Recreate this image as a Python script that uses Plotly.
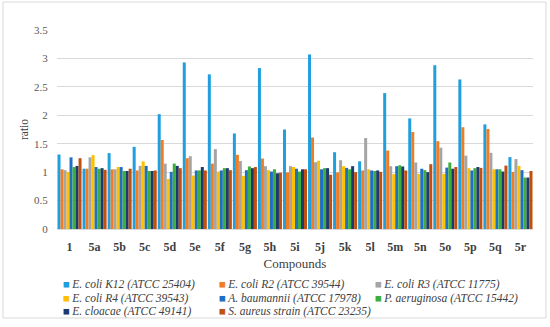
import plotly.graph_objects as go

compounds = ["1", "5a", "5b", "5c", "5d", "5e", "5f", "5g", "5h", "5i",
             "5j", "5k", "5l", "5m", "5n", "5o", "5p", "5q", "5r"]

series_names = [
    "E. coli K12 (ATCC 25404)",
    "E. coli R2 (ATCC 39544)",
    "E. coli R3 (ATCC 11775)",
    "E. coli R4 (ATCC 39543)",
    "A. baumannii (ATCC 17978)",
    "P. aeruginosa (ATCC 15442)",
    "E. cloacae (ATCC 49141)",
    "S. aureus strain (ATCC 23235)",
]

ecoli_k12 = [1.31, 1.06, 1.335, 1.445, 2.02, 2.93, 2.72, 1.68, 2.83, 1.75,
             3.07, 1.35, 1.19, 2.39, 1.945, 2.88, 2.63, 1.84, 1.265]
ecoli_r2 = [1.05, 1.06, 1.05, 1.03, 1.565, 1.245, 1.15, 1.305, 1.24, 0.995,
            1.61, 0.995, 1.03, 1.38, 1.705, 1.545, 1.79, 1.76, 1.005]
ecoli_r3 = [1.035, 1.26, 1.05, 1.11, 1.15, 1.28, 1.405, 1.195, 1.105, 1.105,
            1.175, 1.21, 1.60, 1.105, 1.17, 1.43, 1.29, 1.34, 1.23]
ecoli_r4 = [1.005, 1.30, 1.09, 1.19, 0.88, 0.94, 1.01, 0.935, 1.035, 1.09,
            1.20, 1.105, 1.05, 0.965, 0.97, 0.97, 1.07, 1.05, 1.11]
a_baumannii = [1.26, 1.09, 1.09, 1.11, 1.005, 1.03, 1.03, 1.035, 1.01, 1.06,
               1.05, 1.075, 1.03, 1.105, 1.06, 1.08, 1.03, 1.05, 1.035]
p_aeruginosa = [1.09, 1.06, 1.02, 1.02, 1.15, 1.03, 1.07, 1.10, 1.05, 1.01,
                1.07, 1.05, 1.02, 1.12, 1.035, 1.17, 1.07, 1.05, 0.905]
e_cloacae = [1.11, 1.07, 1.02, 1.02, 1.11, 1.09, 1.07, 1.07, 0.98, 1.05,
             1.07, 1.105, 1.03, 1.10, 1.0, 1.06, 1.09, 1.01, 0.905]
s_aureus = [1.245, 1.04, 1.06, 1.03, 1.07, 1.03, 1.035, 1.09, 0.99, 1.05,
            0.955, 1.0, 1.005, 1.03, 1.14, 1.09, 1.075, 1.115, 1.02]

values = [ecoli_k12, ecoli_r2, ecoli_r3, ecoli_r4,
          a_baumannii, p_aeruginosa, e_cloacae, s_aureus]

colors = ["#1F9FDD", "#F07C23", "#A5A5A5", "#FFC000",
          "#1E6FC6", "#3DAE3B", "#1D3A6C", "#C0500F"]

FONT = "Liberation Serif"

fig = go.Figure()
for name, vals, col in zip(series_names, values, colors):
    fig.add_trace(go.Bar(x=compounds, y=vals, name=name,
                         marker=dict(color=col, line=dict(width=0))))

# plot-area geometry (pixels) used to place the custom legend
L, R, T, B = 57, 17, 30, 98
W, H = 550, 327
pw, ph = W - L - R, H - T - B

def px2paper(px, py):
    return (px - L) / pw, (H - B - py) / ph

annotations = []
for i, (name, col) in enumerate(zip(series_names, colors)):
    r, c = divmod(i, 3)
    xp, yp = px2paper(61 + c * 156, 284.5 + r * 13.5)
    annotations.append(dict(
        x=xp, y=yp, xref="paper", yref="paper", xanchor="left", yanchor="middle",
        showarrow=False,
        text='<span style="color:%s">■</span><i>&#8201;%s</i>' % (col, name),
        font=dict(family=FONT, size=11.5, color="#404040")))

x0, y0 = px2paper(3, 318)
x1, y1 = px2paper(546, 2)

fig.update_layout(
    width=W, height=H,
    margin=dict(l=L, r=R, t=T, b=B, autoexpand=False),
    paper_bgcolor="white", plot_bgcolor="white",
    barmode="group", bargap=0.04, bargroupgap=0.0,
    showlegend=False,
    font=dict(family=FONT, size=11, color="#595959"),
    annotations=annotations,
    shapes=[dict(type="rect", xref="paper", yref="paper",
                 x0=x0, y0=y0, x1=x1, y1=y1,
                 line=dict(color="#D9D9D9", width=1), layer="below")],
    xaxis=dict(
        title=dict(text="Compounds", font=dict(family=FONT, size=13, color="#404040"),
                   standoff=5),
        tickfont=dict(family=FONT, size=12, color="#404040", weight="bold"),
        ticks="outside", ticklen=7, tickcolor="rgba(0,0,0,0)",
        showline=True, linecolor="#D9D9D9", linewidth=1,
        showgrid=False, automargin=False,
    ),
    yaxis=dict(
        title=dict(text="ratio", font=dict(family=FONT, size=11.5, color="#404040"),
                   standoff=3),
        range=[0, 3.5], dtick=0.5,
        tickformat="~g",
        tickfont=dict(family=FONT, size=11, color="#595959"),
        ticks="outside", ticklen=6, tickcolor="rgba(0,0,0,0)",
        showgrid=True, gridcolor="#D9D9D9", gridwidth=1,
        zeroline=False, showline=False, automargin=False,
    ),
)

fig.write_html("out.html", config={"displayModeBar": False},
               post_script="document.body.style.margin='0';")
